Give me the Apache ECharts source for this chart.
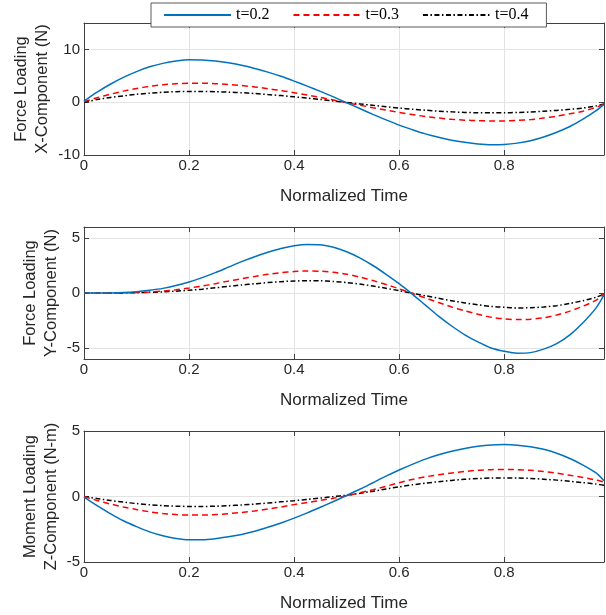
<!DOCTYPE html>
<html>
<head>
<meta charset="utf-8">
<script src="https://cdn.jsdelivr.net/npm/echarts@6/dist/echarts.min.js"></script>
<style>
html,body{margin:0;padding:0;background:#fff;}
#chart{width:606px;height:615px;}
</style>
</head>
<body>
<div id="chart"></div>
<script>
// ---------- data ----------
const xs = [0, 0.025, 0.05, 0.075, 0.1, 0.125, 0.15, 0.175, 0.2, 0.225, 0.25, 0.275, 0.3, 0.325, 0.35, 0.375,
  0.4, 0.425, 0.45, 0.475, 0.5, 0.525, 0.55, 0.575, 0.6, 0.625, 0.65, 0.675, 0.7, 0.725, 0.75, 0.775,
  0.8, 0.825, 0.85, 0.875, 0.9, 0.925, 0.95, 0.975, 0.99];
const seriesNames = ['t=0.2', 't=0.3', 't=0.4'];
const xTicks = [0, 0.2, 0.4, 0.6, 0.8];

// Force X component (N)
const fxT02 = [0.2, 1.9, 3.4, 4.7, 5.8, 6.7, 7.35, 7.8, 8.03, 8.0, 7.8, 7.45, 7.0, 6.4, 5.7, 4.9,
  4.0, 3.05, 2.05, 1.0, -0.1, -1.2, -2.3, -3.35, -4.35, -5.2, -6.0, -6.65, -7.2, -7.6, -7.9, -8.05,
  -8.0, -7.75, -7.3, -6.6, -5.7, -4.6, -3.2, -1.6, -0.4];
const fxT03 = [0.1, 0.85, 1.5, 2.1, 2.6, 3.0, 3.3, 3.5, 3.6, 3.6, 3.5, 3.35, 3.15, 2.9, 2.55, 2.2,
  1.8, 1.35, 0.9, 0.4, -0.1, -0.55, -1.05, -1.5, -1.95, -2.35, -2.7, -3.0, -3.25, -3.4, -3.5, -3.55,
  -3.55, -3.45, -3.3, -3.0, -2.65, -2.2, -1.7, -1.0, -0.4];
const fxT04 = [0, 0.5, 0.9, 1.2, 1.5, 1.7, 1.88, 2.0, 2.05, 2.05, 2.0, 1.9, 1.8, 1.65, 1.45, 1.25,
  1.02, 0.78, 0.52, 0.24, -0.05, -0.32, -0.6, -0.85, -1.1, -1.33, -1.52, -1.7, -1.83, -1.93, -2.0, -2.02,
  -2.0, -1.95, -1.85, -1.72, -1.55, -1.35, -1.1, -0.7, -0.35];
const fxTicks = [-10, 0, 10];

// Force Y component (N)
const fyT02 = [0, 0, 0.01, 0.04, 0.12, 0.25, 0.42, 0.68, 1.0, 1.4, 1.85, 2.35, 2.85, 3.3, 3.7, 4.05,
  4.3, 4.42, 4.38, 4.15, 3.75, 3.2, 2.5, 1.7, 0.85, -0.1, -1.1, -2.1, -3.0, -3.8, -4.45, -5.0,
  -5.3, -5.47, -5.42, -5.1, -4.6, -3.8, -2.7, -1.35, -0.2];
const fyT03 = [0, 0, 0.005, 0.02, 0.05, 0.1, 0.18, 0.3, 0.45, 0.63, 0.85, 1.08, 1.3, 1.5, 1.7, 1.85,
  1.95, 2.0, 1.98, 1.88, 1.7, 1.45, 1.13, 0.77, 0.38, -0.03, -0.45, -0.87, -1.27, -1.62, -1.93, -2.2,
  -2.35, -2.42, -2.38, -2.25, -2.0, -1.65, -1.2, -0.65, -0.1];
const fyT04 = [0, 0, 0.003, 0.01, 0.03, 0.06, 0.1, 0.17, 0.25, 0.35, 0.47, 0.6, 0.73, 0.84, 0.95, 1.03,
  1.09, 1.12, 1.11, 1.05, 0.95, 0.81, 0.63, 0.43, 0.21, -0.02, -0.25, -0.48, -0.7, -0.9, -1.07, -1.22,
  -1.3, -1.36, -1.34, -1.27, -1.15, -0.95, -0.7, -0.38, -0.08];
const fyTicks = [-5, 0, 5];

// Moment Z component (N-m)
const mzT02 = [-0.05, -0.7, -1.3, -1.85, -2.3, -2.7, -3.0, -3.2, -3.3, -3.3, -3.22, -3.08, -2.9, -2.65, -2.35, -2.02,
  -1.65, -1.25, -0.82, -0.38, 0.08, 0.55, 1.05, 1.55, 2.02, 2.45, 2.85, 3.18, 3.45, 3.67, 3.83, 3.93,
  3.96, 3.92, 3.8, 3.6, 3.3, 2.9, 2.4, 1.8, 1.2];
const mzT03 = [0, -0.3, -0.57, -0.8, -1.0, -1.17, -1.3, -1.38, -1.42, -1.42, -1.38, -1.31, -1.22, -1.1, -0.96, -0.8,
  -0.62, -0.46, -0.3, -0.13, 0.06, 0.28, 0.52, 0.78, 1.05, 1.3, 1.5, 1.66, 1.8, 1.91, 2.0, 2.05,
  2.07, 2.05, 2.0, 1.9, 1.78, 1.62, 1.45, 1.25, 1.1];
const mzT04 = [0, -0.16, -0.3, -0.43, -0.54, -0.63, -0.7, -0.74, -0.76, -0.76, -0.74, -0.7, -0.65, -0.58, -0.5, -0.41,
  -0.32, -0.22, -0.12, -0.01, 0.1, 0.24, 0.4, 0.57, 0.74, 0.89, 1.02, 1.13, 1.23, 1.31, 1.37, 1.41,
  1.42, 1.41, 1.38, 1.32, 1.25, 1.16, 1.06, 0.95, 0.85];
const mzTicks = [-5, 0, 5];

// ---------- styling ----------
const colors = ['#0072BD', '#FF0000', '#000000'];
const dashes = ['solid', [6, 4], [5, 2.5, 1.5, 2.5]];
const axisColor = '#404040';
const gridColor = '#e3e3e3';
const sans = 'Liberation Sans, Arial, sans-serif';

const panels = [
  { top: 23, height: 132, min: -10, max: 15, ticks: fxTicks, nameGap: 31.5, name: 'Force Loading\nX-Component (N)', data: [fxT02, fxT03, fxT04] },
  { top: 227, height: 132, min: -6, max: 6, ticks: fyTicks, nameGap: 22.5, name: 'Force Loading\nY-Component (N)', data: [fyT02, fyT03, fyT04] },
  { top: 431, height: 131, min: -5, max: 5, ticks: mzTicks, nameGap: 22.5, name: 'Moment Loading\nZ-Component (N-m)', data: [mzT02, mzT03, mzT04] }
];

const grid = [], xAxis = [], yAxis = [], series = [];
panels.forEach((p, gi) => {
  grid.push({ left: 84, right: 2, top: p.top, height: p.height, containLabel: false, outerBoundsMode: 'none' });
  xAxis.push({
    type: 'value', gridIndex: gi, min: 0, max: 0.99, position: 'bottom',
    name: 'Normalized Time', nameLocation: 'middle', nameGap: 32.5, nameMoveOverlap: false,
    nameTextStyle: { fontFamily: sans, fontSize: 17, color: '#262626' },
    axisLine: { show: true, onZero: false, lineStyle: { color: axisColor, width: 1 } },
    axisTick: { show: true, inside: true, length: 5, customValues: xTicks, lineStyle: { color: axisColor } },
    axisLabel: { show: true, customValues: xTicks, margin: 3, fontFamily: sans, fontSize: 15, color: '#262626',
      formatter: v => (v === 0 ? '0' : String(+v.toFixed(1))) },
    splitLine: { show: true, lineStyle: { color: gridColor, width: 1 } }
  });
  xAxis.push({
    type: 'value', gridIndex: gi, min: 0, max: 0.99, position: 'top',
    axisLine: { show: true, onZero: false, lineStyle: { color: axisColor, width: 1 } },
    axisTick: { show: true, inside: true, length: 5, customValues: xTicks, lineStyle: { color: axisColor } },
    axisLabel: { show: false },
    splitLine: { show: false }
  });
  yAxis.push({
    type: 'value', gridIndex: gi, min: p.min, max: p.max, position: 'left',
    name: p.name, nameLocation: 'middle', nameGap: p.nameGap, nameMoveOverlap: false,
    nameTextStyle: { fontFamily: sans, fontSize: 16.5, lineHeight: 21, color: '#262626', align: 'center' },
    axisLine: { show: true, onZero: false, lineStyle: { color: axisColor, width: 1 } },
    axisTick: { show: true, inside: true, length: 5, customValues: p.ticks, lineStyle: { color: axisColor } },
    axisLabel: { show: true, customValues: p.ticks, margin: 4, fontFamily: sans, fontSize: 15, color: '#262626' },
    splitLine: { show: true, lineStyle: { color: gridColor, width: 1 } }
  });
  yAxis.push({
    type: 'value', gridIndex: gi, min: p.min, max: p.max, position: 'right',
    axisLine: { show: true, onZero: false, lineStyle: { color: axisColor, width: 1 } },
    axisTick: { show: true, inside: true, length: 5, customValues: p.ticks, lineStyle: { color: axisColor } },
    axisLabel: { show: false },
    splitLine: { show: false }
  });
  p.data.forEach((arr, si) => {
    series.push({
      name: seriesNames[si], type: 'line', xAxisIndex: gi * 2, yAxisIndex: gi * 2,
      data: xs.map((x, i) => [x, arr[i]]),
      smooth: 0.25, showSymbol: false, symbol: 'none', clip: true,
      lineStyle: { color: colors[si], width: 1.5, type: dashes[si] },
      itemStyle: { color: colors[si] },
      z: 3 - si
    });
  });
});

const option = {
  animation: false,
  backgroundColor: '#ffffff',
  grid, xAxis, yAxis, series,
  legend: {
    data: seriesNames, left: 151, top: 3,
    orient: 'horizontal',
    itemWidth: 67, itemHeight: 14, itemGap: 23,
    padding: [4, 18, 4, 12],
    backgroundColor: '#ffffff', borderColor: '#5a5a5a', borderWidth: 1,
    itemStyle: { opacity: 0 },
    textStyle: { fontFamily: 'Liberation Serif, Times New Roman, serif', fontSize: 16, color: '#000' },
    selectedMode: false
  }
};

const chart = echarts.init(document.getElementById('chart'), null, { renderer: 'canvas' });
chart.setOption(option);
</script>
</body>
</html>
